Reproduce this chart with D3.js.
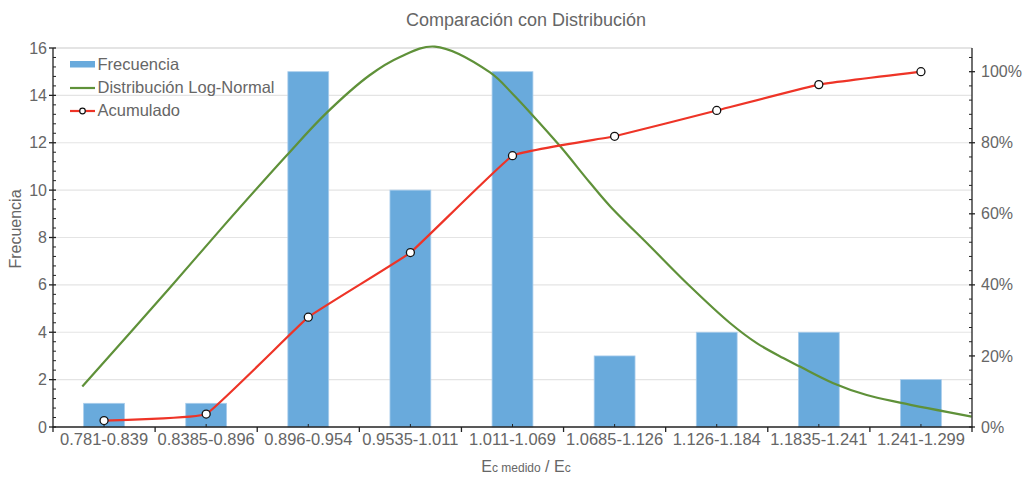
<!DOCTYPE html>
<html><head><meta charset="utf-8">
<script src="https://cdn.jsdelivr.net/npm/d3@7"></script>
<style>
body{margin:0;background:#fff;}
text{font-family:"Liberation Sans",Arial,Helvetica,sans-serif;fill:#666;}
</style></head>
<body><svg id="c" width="1029" height="477"></svg>
<script>
const categories = ["0.781-0.839","0.8385-0.896","0.896-0.954","0.9535-1.011","1.011-1.069","1.0685-1.126","1.126-1.184","1.1835-1.241","1.241-1.299"];
const frequency = [1,1,15,10,15,3,4,4,2];
const cumulativePct = [1.82,3.64,30.91,49.09,76.36,81.82,89.09,96.36,100];
// Log-normal curve: x = Ec medido / Ec, y = frequency units
const lnX = [0.7975,0.8467,0.8749,0.9124,0.9349,0.9593,0.9764,0.9960,1.0271,1.0400,1.0496,1.0665,1.0834,1.0947,1.1172,1.1397,1.1622,1.1773,1.1922,1.2016,1.2204,1.2392,1.2579,1.2983];
const lnY = [1.71,5.87,8.3,11.45,13.25,14.85,15.62,16.06,14.97,14.05,13.28,11.86,10.31,9.32,7.63,5.94,4.39,3.54,2.91,2.55,1.85,1.35,1.03,0.44];
const leftTicks = [0,2,4,6,8,10,12,14,16];
const rightTicks = [0,20,40,60,80,100];
const xRange = [0.781,1.2985];

const L=53,R=972,T=48,B=427;
const svg=d3.select("#c");
const x=d3.scaleBand().domain(categories).range([L,R]).padding(0);
const xc=d3.scaleLinear().domain(xRange).range([L,R]);
const y=d3.scaleLinear().domain([0,16]).range([B,T]);
const y2=d3.scaleLinear().domain([0,1600/15]).range([B,T]);

// grid
svg.append("g").selectAll("line").data(leftTicks.filter(d=>d>0)).join("line")
  .attr("x1",L).attr("x2",R).attr("y1",d=>y(d)).attr("y2",d=>y(d))
  .attr("stroke","#e4e4e4").attr("stroke-width",d=>d===16?2:1.2);

// bars
svg.append("g").selectAll("rect").data(frequency).join("rect")
  .attr("x",(d,i)=>x(categories[i])+x.bandwidth()*0.3)
  .attr("width",x.bandwidth()*0.4)
  .attr("y",d=>y(d)).attr("height",d=>B-y(d))
  .attr("fill","#69aadc").attr("stroke","#a9cdec").attr("stroke-width",0.8);

// log-normal
const lnData=lnX.map((v,i)=>[v,lnY[i]]);
svg.append("path").datum(lnData)
  .attr("d",d3.line().x(d=>xc(d[0])).y(d=>y(d[1])).curve(d3.curveCatmullRom.alpha(0.5)))
  .attr("fill","none").attr("stroke","#5f9139").attr("stroke-width",2.2);

// cumulative
const cx=(i)=>x(categories[i])+x.bandwidth()/2;
svg.append("path").datum(cumulativePct)
  .attr("d",d3.line().x((d,i)=>cx(i)).y(d=>y2(d)).curve(d3.curveCardinal.tension(0.75)))
  .attr("fill","none").attr("stroke","#ee3427").attr("stroke-width",2.2);
svg.append("g").selectAll("circle").data(cumulativePct).join("circle")
  .attr("cx",(d,i)=>cx(i)).attr("cy",d=>y2(d)).attr("r",4)
  .attr("fill","#fff").attr("stroke","#111").attr("stroke-width",1.3);

// axes lines
const ax=svg.append("g").attr("stroke","#222").attr("stroke-width",1.3);
ax.append("line").attr("x1",L).attr("x2",L).attr("y1",T).attr("y2",B);
ax.append("line").attr("x1",R).attr("x2",R).attr("y1",T).attr("y2",B);
ax.append("line").attr("x1",L-0.6).attr("x2",R+0.6).attr("y1",B).attr("y2",B);

// left ticks
const leftMinor=d3.range(0,16.001,0.4).filter(v=>Math.abs(v/2-Math.round(v/2))>1e-6);
ax.selectAll(".lmaj").data(leftTicks).join("line").attr("x1",L-4).attr("x2",L+3).attr("y1",d=>y(d)).attr("y2",d=>y(d));
ax.selectAll(".lmin").data(leftMinor).join("line").attr("class","lmin").attr("x1",L).attr("x2",L+3).attr("y1",d=>y(d)).attr("y2",d=>y(d)).attr("stroke-width",1);
svg.append("g").selectAll("text").data(leftTicks).join("text")
  .attr("x",L-6).attr("y",d=>y(d)).attr("dy","0.35em").attr("text-anchor","end")
  .attr("font-size","16px").text(d=>d);

// right ticks
const rightMinor=d3.range(0,104.01,4).filter(v=>v%20!==0);
ax.selectAll(".rmaj").data(rightTicks).join("line").attr("class","rmaj").attr("x1",R-3).attr("x2",R+3).attr("y1",d=>y2(d)).attr("y2",d=>y2(d));
ax.selectAll(".rmin").data(rightMinor).join("line").attr("class","rmin").attr("x1",R-3).attr("x2",R).attr("y1",d=>y2(d)).attr("y2",d=>y2(d)).attr("stroke-width",1);
svg.append("g").selectAll("text").data(rightTicks).join("text")
  .attr("x",R+9).attr("y",d=>y2(d)).attr("dy","0.35em").attr("text-anchor","start")
  .attr("font-size","16px").text(d=>d+"%");

// x ticks
const bounds=categories.map(c=>x(c)).concat([R]);
ax.selectAll(".xb").data(bounds).join("line").attr("class","xb").attr("x1",d=>d).attr("x2",d=>d).attr("y1",B).attr("y2",B+5);
ax.selectAll(".xc").data(categories).join("line").attr("class","xc").attr("x1",d=>x(d)+x.bandwidth()/2).attr("x2",d=>x(d)+x.bandwidth()/2).attr("y1",B-3).attr("y2",B).attr("stroke-width",1);
svg.append("g").selectAll("text").data(categories).join("text")
  .attr("x",d=>x(d)+x.bandwidth()/2).attr("y",445).attr("text-anchor","middle")
  .attr("font-size","16.5px").text(d=>d);

// title
svg.append("text").attr("x",526).attr("y",26).attr("text-anchor","middle").attr("font-size","18px").text("Comparación con Distribución");

// y title
svg.append("text").attr("transform","translate(21,229) rotate(-90)").attr("text-anchor","middle").attr("font-size","16px").text("Frecuencia");

// x title with subscripts
const xt=svg.append("text").attr("x",526).attr("y",472).attr("text-anchor","middle").attr("font-size","16px");
xt.append("tspan").text("E");
xt.append("tspan").attr("font-size","12px").text("c medido");
xt.append("tspan").text(" / E");
xt.append("tspan").attr("font-size","12px").text("c");

// legend
const lg=svg.append("g");
lg.append("rect").attr("x",70).attr("y",61).attr("width",25).attr("height",6.5).attr("fill","#69aadc");
lg.append("line").attr("x1",70).attr("x2",95).attr("y1",88).attr("y2",88).attr("stroke","#5f9139").attr("stroke-width",2.2);
lg.append("line").attr("x1",70).attr("x2",95).attr("y1",111).attr("y2",111).attr("stroke","#ee3427").attr("stroke-width",2.2);
lg.append("circle").attr("cx",82.5).attr("cy",111).attr("r",2.8).attr("fill","#fff").attr("stroke","#111").attr("stroke-width",1.2);
const legendLabels=["Frecuencia","Distribución Log-Normal","Acumulado"];
lg.selectAll("text").data(legendLabels).join("text")
  .attr("x",97.5).attr("y",(d,i)=>64.5+i*23).attr("dy","0.35em").attr("font-size","16.5px").text(d=>d);
</script></body></html>
